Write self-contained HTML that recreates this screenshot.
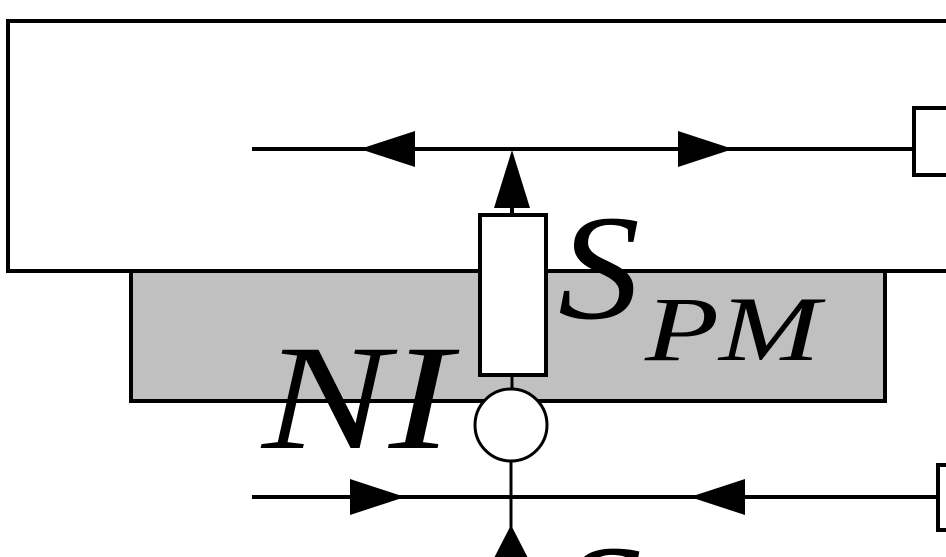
<!DOCTYPE html>
<html><head><meta charset="utf-8"><style>
html,body{margin:0;padding:0;background:#fff;width:946px;height:557px;overflow:hidden}
svg{display:block;overflow:hidden}
text{font-family:"Liberation Serif",serif;font-style:italic;fill:#000}
</style></head><body>
<svg width="946" height="557" viewBox="0 0 946 557">
<defs><clipPath id="c"><rect x="0" y="0" width="946" height="557"/></clipPath></defs>
<g clip-path="url(#c)">
<rect x="8" y="21" width="950" height="250" fill="#fff" stroke="#000" stroke-width="4"/>
<rect x="131" y="271" width="754" height="130" fill="#c0c0c0" stroke="#000" stroke-width="4"/>
<line x1="252" y1="149" x2="914" y2="149" stroke="#000" stroke-width="4"/>
<rect x="914" y="108" width="40" height="67" fill="#fff" stroke="#000" stroke-width="4"/>
<polygon points="360,149 415,131 415,167" fill="#000"/>
<polygon points="733,149 678,131 678,167" fill="#000"/>
<line x1="512" y1="180" x2="512" y2="215" stroke="#000" stroke-width="4"/>
<polygon points="512,150 494,208 530,208" fill="#000"/>
<rect x="480" y="215" width="66" height="160" fill="#fff" stroke="#000" stroke-width="4"/>
<text x="558" y="318" font-size="150" textLength="82" lengthAdjust="spacingAndGlyphs">S</text>
<text x="645" y="360" font-size="92" textLength="175" lengthAdjust="spacingAndGlyphs">PM</text>
<text x="262" y="448" font-size="150" textLength="190" lengthAdjust="spacingAndGlyphs">NI</text>
<line x1="512" y1="375" x2="512" y2="390" stroke="#000" stroke-width="3"/>
<circle cx="511" cy="425" r="36" fill="#fff" stroke="#000" stroke-width="3"/>
<line x1="511" y1="461" x2="511" y2="557" stroke="#000" stroke-width="3"/>
<line x1="252" y1="497" x2="946" y2="497" stroke="#000" stroke-width="4"/>
<rect x="938" y="465" width="20" height="65" fill="#fff" stroke="#000" stroke-width="4"/>
<polygon points="405,497 350,479 350,515" fill="#000"/>
<polygon points="690,497 745,479 745,515" fill="#000"/>
<polygon points="511,525 493,560 529,560" fill="#000"/>
<text x="560" y="648" font-size="150" textLength="82" lengthAdjust="spacingAndGlyphs">S</text>
</g>
</svg>
</body></html>
